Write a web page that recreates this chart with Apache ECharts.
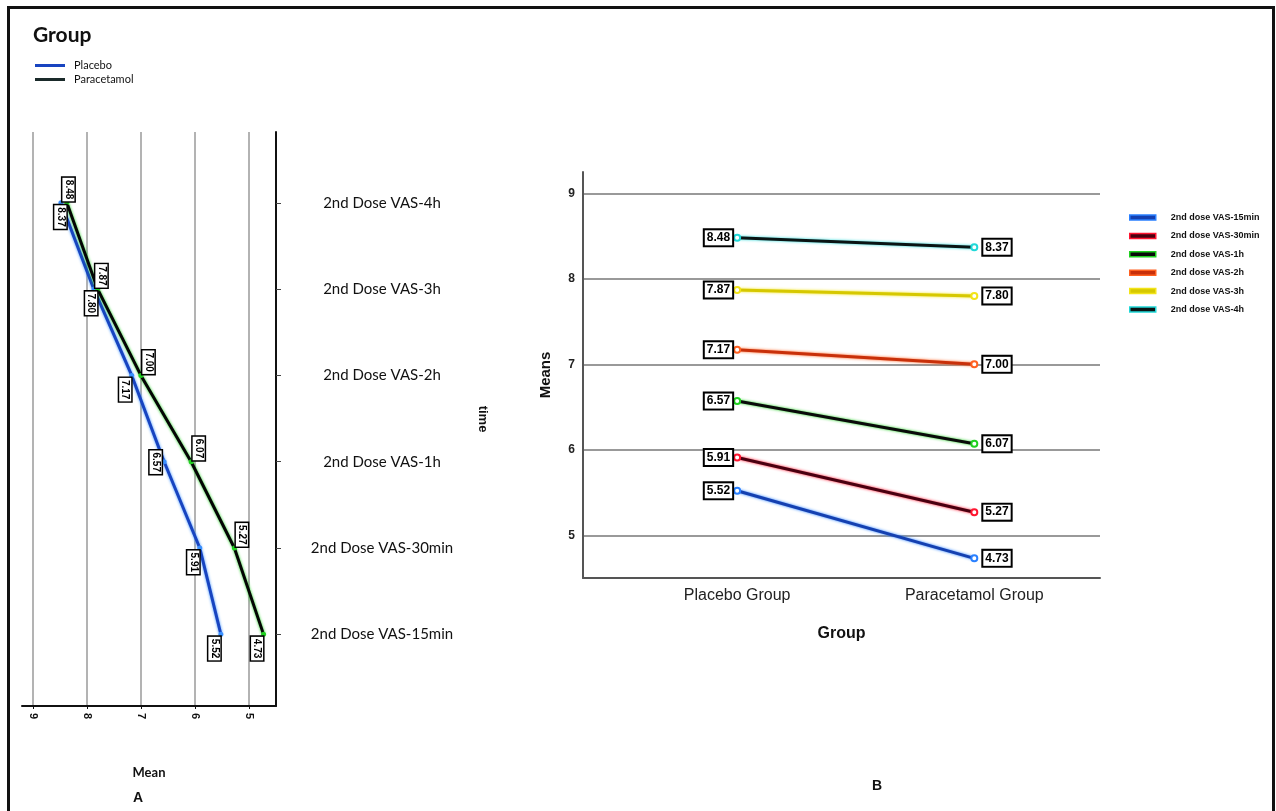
<!DOCTYPE html>
<html>
<head>
<meta charset="utf-8">
<title>VAS means</title>
<script src="https://cdn.jsdelivr.net/npm/echarts@6/dist/echarts.min.js"></script>
<style>
html, body { margin: 0; padding: 0; background: #fff; }
#main { width: 1276px; height: 811px; }
</style>
</head>
<body>
<div id="main"></div>
<script>
// data
var timePoints = ['2nd Dose VAS-15min', '2nd Dose VAS-30min', '2nd Dose VAS-1h', '2nd Dose VAS-2h', '2nd Dose VAS-3h', '2nd Dose VAS-4h'];
var seriesNamesB = ['2nd dose VAS-15min', '2nd dose VAS-30min', '2nd dose VAS-1h', '2nd dose VAS-2h', '2nd dose VAS-3h', '2nd dose VAS-4h'];
var groupNames = ['Placebo Group', 'Paracetamol Group'];
var placebo = [5.52, 5.91, 6.57, 7.17, 7.87, 8.48];
var paracetamol = [4.73, 5.27, 6.07, 7.00, 7.80, 8.37];
var meanTicks = [5, 6, 7, 8, 9];

// where the boxed labels of panel A sit (style only)
var placeboSide = ['bl', 'bl', 'l', 'bl', 'ar', 'ar'];
var paraSide = ['bl', 'ar', 'ar', 'ar', 'bl', 'bl'];

// line colours: core and glow
var coreB = ['#1540b0', '#4a0010', '#0a0a0a', '#c8300a', '#d6c800', '#0a1414'];
var glowB = ['#2a80ff', '#ff1530', '#20d020', '#ff6020', '#f2e418', '#20d8d8'];

var font = 'Liberation Sans, Arial, sans-serif';

function boxA(side) {
    var l = {
        show: true, rotate: -90,
        formatter: function (p) { return p.value[0].toFixed(2); },
        fontSize: 10, fontWeight: 'bold', fontFamily: font, color: '#000',
        backgroundColor: '#fff', borderColor: '#000', borderWidth: 1.5, padding: [1, 2]
    };
    if (side === 'ar') { l.position = [4, 1]; l.align = 'right'; l.verticalAlign = 'bottom'; }
    else if (side === 'bl') { l.position = [2, 5]; l.align = 'left'; l.verticalAlign = 'top'; }
    else { l.position = [0, 3]; l.align = 'center'; l.verticalAlign = 'top'; }
    return l;
}

function boxB(pos) {
    return {
        show: true, position: pos, distance: pos === 'left' ? 1 : 5,
        formatter: function (p) { return p.value[1].toFixed(2); },
        fontSize: 12, fontWeight: 'bold', fontFamily: font, color: '#000',
        backgroundColor: '#fff', borderColor: '#000', borderWidth: 2, padding: [2, 2, 1, 2]
    };
}

var seriesA = [
    { name: 'Placebo', vals: placebo, side: placeboSide, core: '#1844c0', glow: '#3a90ff' },
    { name: 'Paracetamol', vals: paracetamol, side: paraSide, core: '#050505', glow: '#20d020' }
].map(function (s) {
    return {
        name: s.name, type: 'line', xAxisIndex: 0, yAxisIndex: 0,
        symbol: 'circle', symbolSize: 5,
        itemStyle: { color: s.glow },
        lineStyle: { color: s.core, width: 3, shadowColor: s.glow, shadowBlur: 3 },
        data: s.vals.map(function (v, i) {
            return { value: [v, i], label: boxA(s.side[i]) };
        }),
        z: 3
    };
});

var seriesB = seriesNamesB.map(function (name, i) {
    return {
        name: name, type: 'line', xAxisIndex: 1, yAxisIndex: 1,
        symbol: 'emptyCircle', symbolSize: 6,
        itemStyle: { color: glowB[i], borderWidth: 1.5 },
        lineStyle: { color: coreB[i], width: 3, shadowColor: glowB[i], shadowBlur: 3 },
        data: [
            { value: [0, placebo[i]], label: boxB('left') },
            { value: [1, paracetamol[i]], label: boxB('right') }
        ],
        z: 3
    };
});

var chart = echarts.init(document.getElementById('main'));
var option = {
    backgroundColor: '#fff',
    animation: false,
    title: [
        { text: 'Group', left: 28, top: 20, textStyle: { fontFamily: 'Lato', fontSize: 21, fontWeight: 'bold', color: '#111' } },
        { text: 'A', left: 128, top: 786, textStyle: { fontFamily: font, fontSize: 14, fontWeight: 'bold', color: '#111' } },
        { text: 'B', left: 867, top: 774, textStyle: { fontFamily: font, fontSize: 14, fontWeight: 'bold', color: '#111' } }
    ],
    legend: [
        {
            data: [
                { name: 'Placebo', itemStyle: { color: '#1844c0' } },
                { name: 'Paracetamol', itemStyle: { color: '#1a2a2a' } }
            ],
            orient: 'vertical', left: 30, top: 55,
            icon: 'rect', itemWidth: 30, itemHeight: 3, itemGap: 3,
            textStyle: { fontFamily: 'Lato', fontSize: 11, color: '#111', padding: [0, 0, 0, 4] }
        },
        {
            data: seriesNamesB.map(function (n, i) {
                return { name: n, itemStyle: { color: coreB[i], borderColor: glowB[i], borderWidth: 1.5 } };
            }),
            orient: 'vertical', left: 1124, top: 207,
            icon: 'rect', itemWidth: 26, itemHeight: 5, itemGap: 7.4,
            textStyle: { fontFamily: font, fontSize: 9, fontWeight: 'bold', lineHeight: 11, color: '#111', padding: [0, 0, 0, 10] }
        }
    ],
    grid: [
        { left: 22, right: 1000, top: 132, bottom: 105 },
        { left: 583, right: 176, top: 172, bottom: 233 }
    ],
    xAxis: [
        {
            gridIndex: 0, type: 'value', inverse: true, min: 4.5, max: 9.2,
            name: 'Mean', nameLocation: 'middle', nameGap: 60,
            nameTextStyle: { fontFamily: 'Lato', fontSize: 13, fontWeight: 'bold', color: '#111' },
            axisLine: { onZero: false, lineStyle: { color: '#111', width: 2 } },
            axisTick: { show: true, length: 3, customValues: meanTicks, lineStyle: { color: '#111' } },
            axisLabel: {
                customValues: meanTicks, rotate: -90, margin: 7,
                fontFamily: font, fontSize: 11, fontWeight: 'bold', color: '#111'
            },
            splitLine: { show: true, lineStyle: { color: '#9a9a9a', width: 1.5 } }
        },
        {
            gridIndex: 1, type: 'value', min: -0.65, max: 1.53,
            name: 'Group', nameLocation: 'middle', nameGap: 48,
            nameTextStyle: { fontFamily: font, fontSize: 16, fontWeight: 'bold', color: '#111' },
            axisLine: { onZero: false, lineStyle: { color: '#555', width: 2 } },
            axisTick: { show: false },
            axisLabel: {
                customValues: [0, 1], margin: 10,
                formatter: function (v) { return groupNames[v]; },
                fontFamily: font, fontSize: 16, color: '#222'
            },
            splitLine: { show: false }
        }
    ],
    yAxis: [
        {
            gridIndex: 0, type: 'value', position: 'right', min: -0.83, max: 5.82,
            name: 'time', nameLocation: 'middle', nameGap: 200, nameRotate: -90,
            nameTextStyle: { fontFamily: font, fontSize: 13, fontWeight: 'bold', color: '#111' },
            axisLine: { show: true, onZero: false, lineStyle: { color: '#111', width: 2 } },
            axisTick: { show: true, length: 5, customValues: [0, 1, 2, 3, 4, 5], lineStyle: { color: '#444' } },
            axisLabel: {
                customValues: [0, 1, 2, 3, 4, 5], margin: 106, align: 'center',
                formatter: function (v) { return timePoints[v]; },
                fontFamily: 'Lato', fontSize: 15, color: '#111'
            },
            splitLine: { show: false }
        },
        {
            gridIndex: 1, type: 'value', min: 4.5, max: 9.25,
            name: 'Means', nameLocation: 'middle', nameGap: 30,
            nameTextStyle: { fontFamily: font, fontSize: 15, fontWeight: 'bold', color: '#111' },
            axisLine: { show: true, onZero: false, lineStyle: { color: '#555', width: 2 } },
            axisTick: { show: false, customValues: meanTicks },
            axisLabel: {
                customValues: meanTicks, margin: 8,
                fontFamily: font, fontSize: 12, fontWeight: 'bold', color: '#222'
            },
            splitLine: { show: true, lineStyle: { color: '#999', width: 2 } }
        }
    ],
    graphic: [
        {
            type: 'rect', silent: true, z: 100,
            shape: { x: 8.5, y: 7.5, width: 1265, height: 850 },
            style: { fill: 'none', stroke: '#111', lineWidth: 3 }
        }
    ],
    series: seriesA.concat(seriesB)
};
chart.setOption(option);
</script>
</body>
</html>
